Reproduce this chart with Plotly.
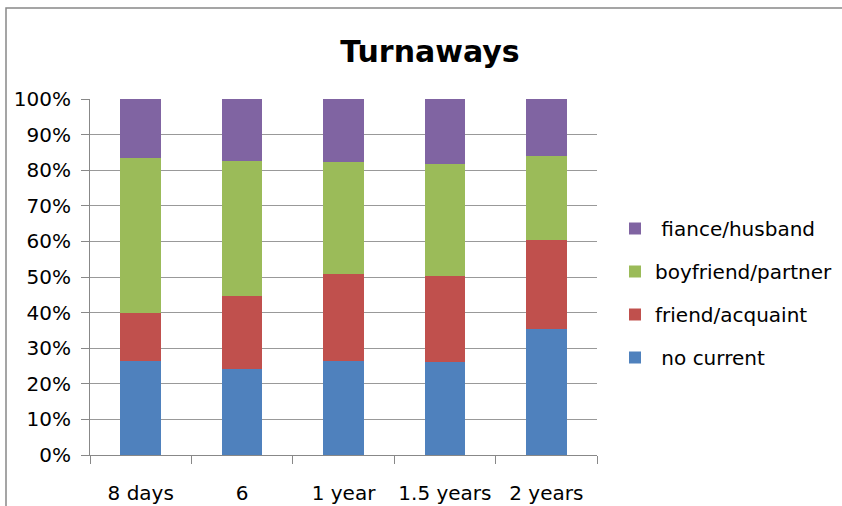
import plotly.graph_objects as go

categories = ["8 days", "6", "1 year", "1.5 years", "2 years"]
no_current = [26.5, 24.2, 26.4, 26.1, 35.3]
friend_acquaint = [13.4, 20.5, 24.4, 24.2, 25.1]
boyfriend_partner = [43.6, 37.9, 31.5, 31.4, 23.6]
fiance_husband = [16.5, 17.4, 17.7, 18.3, 16.0]

series = [
    (" no current", no_current, "#4F81BD"),
    ("friend/acquaint", friend_acquaint, "#C0504D"),
    ("boyfriend/partner", boyfriend_partner, "#9BBB59"),
    (" fiance/husband", fiance_husband, "#8064A2"),
]

FONT = "'DejaVu Sans', sans-serif"

fig = go.Figure()
n = len(series)
for i, (name, vals, col) in enumerate(series):
    fig.add_trace(go.Bar(x=categories, y=vals, name=name, marker_color=col,
                         marker_line_width=0, legendgroup=str(i),
                         legendrank=n - i))

L, R, T, B = 90, 245, 99, 51
W, H = 842, 506
pw, ph = W - L - R, H - T - B

def px(xp):
    return (xp - L) / pw

def py(yp):
    return (H - B - yp) / ph

fig.update_layout(
    width=W, height=H,
    margin=dict(l=L, r=R, t=T, b=B, autoexpand=False),
    barmode="stack", bargap=0.6,
    paper_bgcolor="white", plot_bgcolor="white",
    font=dict(family=FONT, size=20, color="#000000"),
    title=dict(text="<b>Turnaways</b>", x=px(430), xanchor="center", xref="paper",
               y=1 - 51 / H, yanchor="middle",
               font=dict(family=FONT, size=30, color="#000000")),
    legend=dict(traceorder="grouped", tracegroupgap=14,
                x=px(615), xanchor="left", y=py(209), yanchor="top",
                font=dict(family=FONT, size=20), itemwidth=30,
                bgcolor="rgba(0,0,0,0)"),
    xaxis=dict(showline=True, linecolor="#888888", linewidth=1,
               ticks="outside", ticklen=8, tickcolor="#888888", tickson="boundaries",
               showgrid=False, ticklabelstandoff=20, automargin=False, tickangle=0,
               tickfont=dict(family=FONT, size=20)),
    yaxis=dict(range=[0, 100], dtick=10, ticksuffix="%",
               showline=True, linecolor="#888888", linewidth=1,
               ticks="outside", ticklen=8, tickcolor="#888888",
               showgrid=True, gridcolor="#999999", gridwidth=1.3,
               zeroline=False, ticklabelstandoff=6, automargin=False,
               tickfont=dict(family=FONT, size=20)),
    shapes=[dict(type="rect", xref="paper", yref="paper",
                 x0=px(6), x1=px(860), y0=py(8), y1=py(530),
                 line=dict(color="#888888", width=1.5), layer="below")],
)

fig.write_html("out.html")
